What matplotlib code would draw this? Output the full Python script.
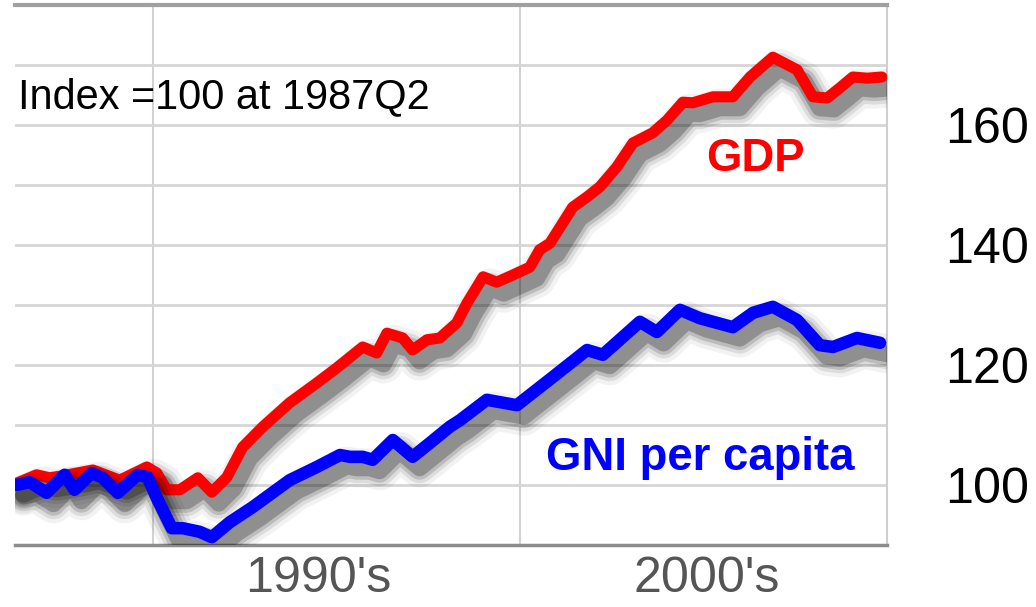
import matplotlib
matplotlib.use("Agg")
import matplotlib.pyplot as plt
import matplotlib.patheffects as pe
from matplotlib import font_manager

# --- data (decimal years, index 1987Q2 = 100) ---
gdp_years = [1986.29, 1986.84, 1987.19, 1987.60, 1988.37, 1989.10, 1989.84, 1990.11,
             1990.38, 1990.74, 1991.23, 1991.61, 1992.02, 1992.45, 1993.00, 1993.73,
             1994.47, 1995.01, 1995.72, 1996.10, 1996.38, 1996.81, 1997.08, 1997.47,
             1997.82, 1998.28, 1998.56, 1999.00, 1999.37, 1999.81, 2000.27, 2000.54,
             2000.82, 2001.44, 2001.83, 2002.18, 2002.64, 2003.08, 2003.62, 2004.01,
             2004.44, 2004.71, 2005.26, 2005.80, 2006.27, 2006.89, 2007.55, 2007.98,
             2008.37, 2008.72, 2009.07, 2009.46, 2009.86]
gdp = [100.3, 101.7, 101.2, 101.6, 102.5, 100.8, 103.0, 102.0,
       99.2, 99.2, 101.2, 98.8, 101.3, 106.3, 109.7, 113.7,
       117.0, 119.5, 123.0, 122.0, 125.3, 124.5, 122.5, 124.2,
       124.5, 127.0, 130.3, 134.7, 133.8, 135.0, 136.3, 139.2,
       140.3, 146.3, 148.0, 149.7, 153.0, 157.0, 158.7, 160.8,
       163.8, 163.7, 164.7, 164.7, 168.0, 171.3, 169.2, 164.7,
       164.5, 166.2, 168.0, 167.8, 168.0]

gni_years = [1986.29, 1986.65, 1987.11, 1987.60, 1987.87, 1988.34, 1988.64, 1989.05,
             1989.59, 1989.86, 1990.14, 1990.52, 1990.82, 1991.28, 1991.61, 1992.10,
             1992.72, 1993.73, 1994.47, 1995.10, 1995.37, 1995.72, 1995.99, 1996.54,
             1997.08, 1997.55, 1998.09, 1998.37, 1999.10, 1999.92, 2000.90, 2001.83,
             2002.26, 2003.27, 2003.73, 2004.36, 2004.90, 2005.80, 2006.35, 2006.89,
             2007.55, 2008.17, 2008.53, 2009.18, 2009.81]
gni_pc = [100.0, 100.5, 98.7, 101.7, 99.2, 102.0, 101.2, 98.7,
          101.7, 101.3, 97.5, 92.8, 92.8, 92.2, 91.3, 93.8,
          96.3, 100.8, 103.0, 105.0, 104.7, 104.7, 104.2, 107.5,
          104.7, 107.0, 109.7, 110.8, 114.2, 113.3, 118.0, 122.5,
          121.7, 127.2, 125.5, 129.2, 127.8, 126.3, 128.7, 129.7,
          127.5, 123.3, 123.0, 124.5, 123.7]

y_ticks = [100, 120, 140, 160]
decade_pos = [1994.5, 2005.1]
decade_labels = ["1990's", "2000's"]

# narrow Arial-like face if present
names = {f.name for f in font_manager.fontManager.ttflist}
if "Liberation Sans Narrow" in names:
    FONT, k = "Liberation Sans Narrow", 1.0
else:
    FONT, k = "Liberation Sans", 0.82

fig = plt.figure(figsize=(10.36, 6.07), dpi=100)
ax = fig.add_axes([15 / 1036, 62 / 607, 872 / 1036, 540 / 607])


def shadow():
    # soft drop shadow: stacked translucent strokes
    fx = []
    for lw, a in [(28, 0.05), (22, 0.09), (17, 0.14), (12, 0.24)]:
        fx.append(pe.SimpleLineShadow(offset=(5, -8), shadow_color="black",
                                      alpha=a, linewidth=lw))
    fx.append(pe.Normal())
    return fx


ax.plot(gdp_years, gdp, color="#ff0000", lw=8, solid_joinstyle="round",
        solid_capstyle="round", path_effects=shadow(), zorder=3)
ax.plot(gni_years, gni_pc, color="#0000ff", lw=9, solid_joinstyle="round",
        solid_capstyle="round", path_effects=shadow(), zorder=4)

ax.set_xlim(1986.25, 2010.0)
ax.set_ylim(90, 180)

ax.set_yticks(y_ticks)
ax.set_yticklabels([str(v) for v in y_ticks], fontfamily=FONT, fontsize=44 * k)
ax.yaxis.tick_right()
ax.tick_params(axis="y", length=0, pad=42)
for v in range(100, 180, 10):
    ax.axhline(v, color="#d6d6d6", lw=2, zorder=1)

ax.set_xticks([1990, 2000])
ax.set_xticklabels(["", ""])
ax.set_xticks(decade_pos, minor=True)
ax.set_xticklabels(decade_labels, minor=True, fontfamily=FONT,
                   fontsize=44 * k, color="#555555")
ax.tick_params(axis="x", which="both", length=0, pad=8)
ax.grid(axis="x", which="major", color="#d2d2d2", lw=1.5)
ax.set_axisbelow(True)

ax.spines["left"].set_visible(False)
ax.spines["top"].set_color("#a0a0a0")
ax.spines["top"].set_linewidth(3)
ax.spines["bottom"].set_color("#8c8c8c")
ax.spines["bottom"].set_linewidth(2.5)
ax.spines["right"].set_color("#cfcfcf")
ax.spines["right"].set_linewidth(1.5)

fig.text(18 / 1036, 1 - 97 / 607, "Index =100 at 1987Q2", fontfamily=FONT,
         fontsize=36.5 * k, color="black", va="center", ha="left")
fig.text(755 / 1036, 1 - 159 / 607, "GDP", fontfamily=FONT, fontweight="bold",
         fontsize=40 * k, color="#ff0000", va="center", ha="center")
fig.text(700 / 1036, 1 - 458 / 607, "GNI per capita", fontfamily=FONT,
         fontweight="bold", fontsize=40 * k, color="#0000ff", va="center", ha="center")

fig.savefig("out.png", dpi=100, facecolor="white")
